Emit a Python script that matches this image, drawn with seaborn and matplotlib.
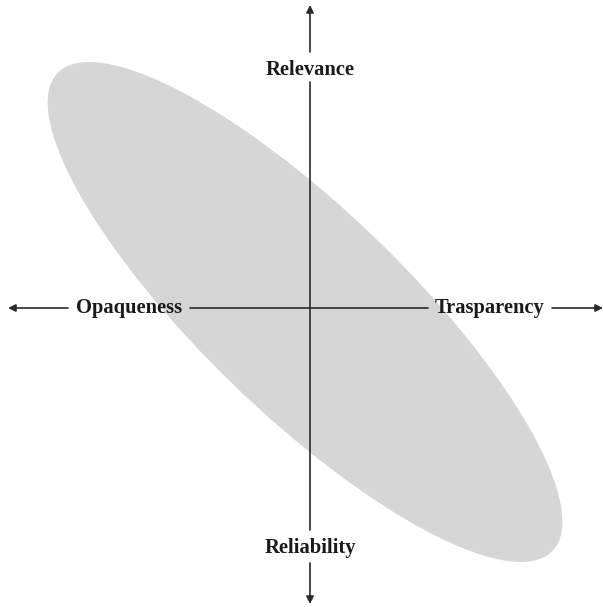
import matplotlib
matplotlib.use("Agg")
import matplotlib.pyplot as plt
import seaborn as sns
from matplotlib.patches import Ellipse

sns.set_theme(style="white")
plt.rcParams['font.family'] = ['Liberation Serif', 'DejaVu Serif']

# axis labels of the diagram (pixel-derived coords, origin at the crossing)
labels = ["Relevance", "Reliability", "Opaqueness", "Trasparency"]
label_x = [0, 0, -181, 180]
label_y = [233, -245, -5, -5]

# ellipse: centre, full width/height, angle
ell_center = (-5, -4)
ell_width = 688
ell_height = 204
ell_angle = -44

# axis segments (start, end, arrow at end?)
h_segments = [((-242, 0), (-302, 0), True),
              ((-120, 0), (118, 0), False),
              ((242, 0), (293, 0), True)]
v_segments = [((0, 256), (0, 303), True),
              ((0, 226), (0, -222), False),
              ((0, -255), (0, -296), True)]

fig = plt.figure(figsize=(6.03, 6.07), dpi=100)
ax = fig.add_axes([0, 0, 1, 1])
ax.set_xlim(-310, 293)
ax.set_ylim(-299, 308)
ax.axis('off')

ax.add_patch(Ellipse(ell_center, ell_width, ell_height, angle=ell_angle,
                     facecolor="#d6d6d6", edgecolor="none", zorder=1))

line_color = "#2a2a2a"
for start, end, arrow in h_segments + v_segments:
    style = "-|>" if arrow else "-"
    ax.annotate("", xy=end, xytext=start,
                arrowprops=dict(arrowstyle=style, mutation_scale=11,
                                lw=1.2, color=line_color,
                                shrinkA=0, shrinkB=0),
                zorder=2)

for name, x, y in zip(labels, label_x, label_y):
    ax.text(x, y, name, ha="center", va="baseline", fontsize=14.8,
            fontweight="bold", color="#1a1a1a", zorder=3)

fig.savefig("out.png", dpi=100)
